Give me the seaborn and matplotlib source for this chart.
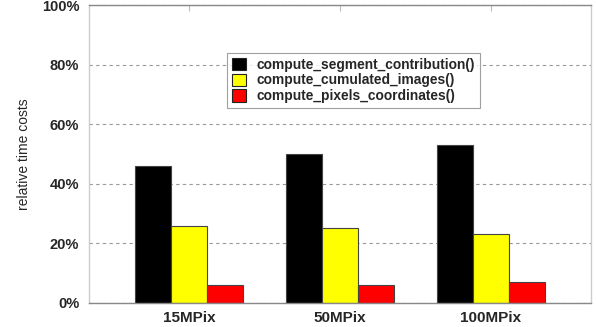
import matplotlib
matplotlib.use("Agg")
import matplotlib.pyplot as plt
import seaborn as sns
import pandas as pd

sizes = ["15MPix", "50MPix", "100MPix"]
functions = [
    "compute_segment_contribution()",
    "compute_cumulated_images()",
    "compute_pixels_coordinates()",
]
segment_contribution = [46.0, 50.0, 53.0]
cumulated_images = [26.0, 25.0, 23.0]
pixels_coordinates = [6.0, 6.0, 7.0]
colors = ["#000000", "#ffff00", "#ff0000"]
y_ticks = [0, 20, 40, 60, 80, 100]

df = pd.DataFrame({
    "size": sizes * 3,
    "function": [functions[0]] * 3 + [functions[1]] * 3 + [functions[2]] * 3,
    "cost": segment_contribution + cumulated_images + pixels_coordinates,
})

sns.set_style("white")
plt.rcParams["font.family"] = ["Liberation Sans", "DejaVu Sans"]

fig = plt.figure(figsize=(5.96, 3.27), dpi=100)
ax = fig.add_axes([0.1493, 0.0734, 0.8423, 0.9113])

ax.yaxis.grid(True, linestyle=(0, (3, 3)), color="#999999", linewidth=0.8)
ax.set_axisbelow(True)

sns.barplot(
    data=df, x="size", y="cost", hue="function",
    order=sizes, hue_order=functions, palette=colors,
    width=0.715, edgecolor="#444444", linewidth=0.8,
    saturation=1, ax=ax, legend=True,
)

ax.set_xlim(-0.662, 2.662)
ax.set_ylim(0, 100)
ax.set_yticks(y_ticks)
ax.set_yticklabels([f"{v}%" for v in y_ticks], fontsize=10.5, fontweight="bold")
for lbl in ax.get_xticklabels():
    lbl.set_fontsize(11)
    lbl.set_fontweight("bold")
ax.set_xlabel("")
ax.set_ylabel("relative time costs", fontsize=10, labelpad=8)

for side in ["left", "right"]:
    ax.spines[side].set_color("#cccccc")
for side in ["top", "bottom"]:
    ax.spines[side].set_color("#888888")
for s in ax.spines.values():
    s.set_linewidth(1.0)

ax.tick_params(axis="x", top=True, bottom=False, direction="in",
               length=4, color="#bbbbbb", pad=6)
ax.tick_params(axis="y", left=False, length=0, pad=7)

leg = ax.legend(
    loc="upper left", bbox_to_anchor=(0.275, 0.839), borderaxespad=0,
    frameon=True, fancybox=False, edgecolor="#888888",
    prop={"weight": "bold", "size": 9.9}, handlelength=1.0,
    handleheight=1.0, handletextpad=0.8, labelspacing=0.12,
    borderpad=0.35, title=None,
)
leg.get_frame().set_linewidth(0.8)
for h in leg.legend_handles:
    h.set_edgecolor("#222222")

fig.savefig("out.png", dpi=100)
